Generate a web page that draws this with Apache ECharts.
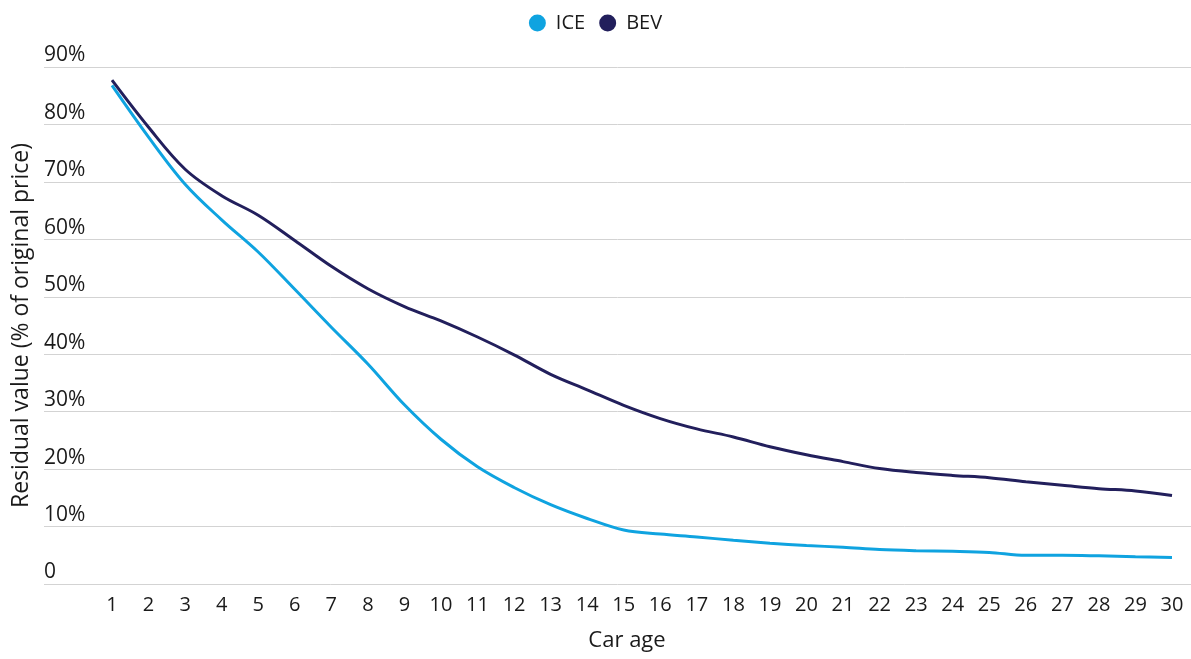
<!DOCTYPE html>
<html>
<head>
<meta charset="utf-8">
<script src="https://cdn.jsdelivr.net/npm/echarts@6/dist/echarts.min.js"></script>
<style>
  html, body { margin: 0; padding: 0; background: #ffffff; }
  #chart { width: 1191px; height: 659px; }
</style>
</head>
<body>
<div id="chart"></div>
<script>
// Car age in years
const carAge = ['1','2','3','4','5','6','7','8','9','10','11','12','13','14','15',
                '16','17','18','19','20','21','22','23','24','25','26','27','28','29','30'];

// Residual value, % of original price
const iceValues = [86.8, 77.8, 69.6, 63.4, 57.8, 51.3, 44.7, 38.3, 31.2, 25.2,
                   20.4, 16.8, 13.8, 11.4, 9.4, 8.7, 8.2, 7.6, 7.1, 6.7,
                   6.4, 6.0, 5.8, 5.7, 5.5, 5.0, 5.0, 4.9, 4.75, 4.6];
const bevValues = [87.7, 79.5, 72.2, 67.6, 64.2, 59.8, 55.3, 51.4, 48.3, 45.8,
                   43.0, 39.9, 36.5, 33.8, 31.1, 28.8, 27.0, 25.6, 23.9, 22.5,
                   21.3, 20.1, 19.4, 18.9, 18.5, 17.8, 17.2, 16.6, 16.2, 15.4];

const yTicks = { min: 0, max: 90, interval: 10 };

const FONT = '"Open Sans", "Noto Sans", sans-serif';
const TEXT = '#1a1a1a';

const chart = echarts.init(document.getElementById('chart'), null, { renderer: 'canvas' });

chart.setOption({
  backgroundColor: '#ffffff',
  textStyle: { fontFamily: FONT },
  legend: {
    top: 8,
    left: 'center',
    icon: 'circle',
    itemWidth: 17,
    itemHeight: 17,
    itemGap: 14,
    textStyle: { fontFamily: FONT, fontSize: 20, color: TEXT, padding: [0, 0, 0, 5] },
    data: ['ICE', 'BEV']
  },
  grid: [
    // full-width grid carrying the horizontal gridlines and the y labels
    { left: 44, right: 0, top: 67, bottom: 75, containLabel: false },
    // plotting grid for the two curves
    { left: 112, right: 19, top: 67, bottom: 75, containLabel: false }
  ],
  xAxis: [
    { gridIndex: 0, type: 'value', min: 0, max: 1, show: false },
    {
      gridIndex: 1,
      type: 'category',
      data: carAge,
      boundaryGap: false,
      axisLine: { show: false },
      axisTick: { show: false },
      splitLine: { show: false },
      axisLabel: { fontFamily: FONT, fontSize: 20, color: TEXT, margin: 11, interval: 0 },
      name: 'Car age',
      nameLocation: 'middle',
      nameGap: 46,
      nameTextStyle: { fontFamily: FONT, fontSize: 22, color: TEXT, padding: [0, 30, 0, 0] }
    }
  ],
  yAxis: [
    {
      gridIndex: 0,
      type: 'value',
      min: yTicks.min,
      max: yTicks.max,
      interval: yTicks.interval,
      axisLine: { show: false },
      axisTick: { show: false },
      splitLine: { show: true, lineStyle: { color: '#d3d3d3', width: 1 } },
      axisLabel: {
        inside: true,
        margin: 0,
        align: 'left',
        verticalAlign: 'bottom',
        fontFamily: FONT,
        fontSize: 21,
        color: TEXT,
        padding: [0, 0, 1, 0],
        formatter: v => (v === 0 ? '0' : v + '%')
      },
      name: 'Residual value (% of original price)',
      nameLocation: 'middle',
      nameRotate: 90,
      nameGap: 11,
      nameTextStyle: { fontFamily: FONT, fontSize: 23, color: TEXT }
    },
    {
      gridIndex: 1,
      type: 'value',
      min: yTicks.min,
      max: yTicks.max,
      interval: yTicks.interval,
      show: false,
      splitLine: { show: false }
    }
  ],
  series: [
    {
      name: 'ICE',
      type: 'line',
      xAxisIndex: 1,
      yAxisIndex: 1,
      data: iceValues,
      smooth: 0.35,
      showSymbol: false,
      symbol: 'circle',
      color: '#0fa3e0',
      lineStyle: { width: 3, color: '#0fa3e0' }
    },
    {
      name: 'BEV',
      type: 'line',
      xAxisIndex: 1,
      yAxisIndex: 1,
      data: bevValues,
      smooth: 0.35,
      showSymbol: false,
      symbol: 'circle',
      color: '#221f5c',
      lineStyle: { width: 3, color: '#221f5c' }
    }
  ]
});
</script>
</body>
</html>
